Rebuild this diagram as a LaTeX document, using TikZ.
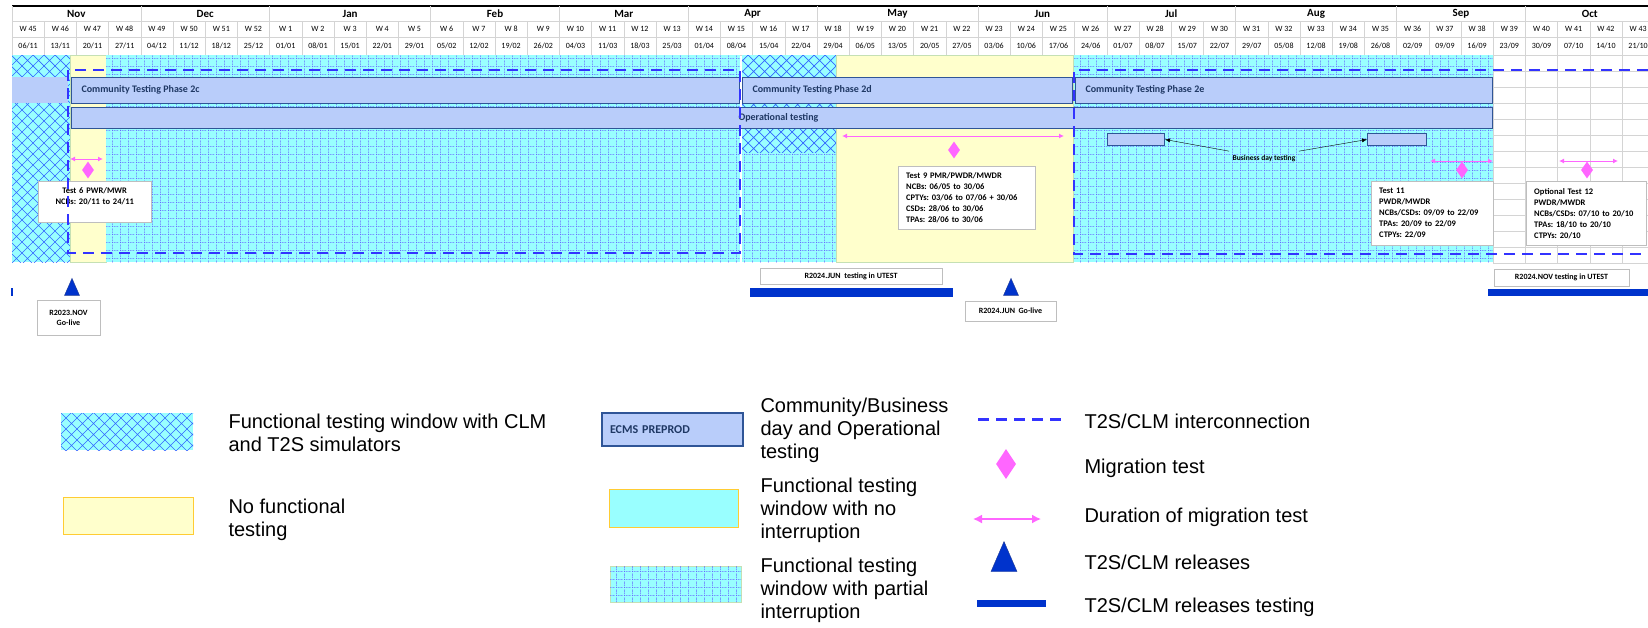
\documentclass[tikz,border=0pt]{standalone}
\usepackage{fontspec}
\setmainfont{Carlito}
\newfontfamily\legendfont{Liberation Sans}
\usepackage{xcolor}
\usepackage{tikz}
\usetikzlibrary{shapes.geometric, arrows.meta, positioning, patterns.meta}
\frenchspacing

\definecolor{cyanf}{RGB}{153,255,255}
\definecolor{latblue}{RGB}{51,102,255}
\definecolor{dotblue}{RGB}{102,102,255}
\definecolor{yellowf}{RGB}{255,255,204}
\definecolor{yellowline}{RGB}{255,204,51}
\definecolor{greenline}{RGB}{197,224,180}
\definecolor{barfill}{RGB}{185,205,250}
\definecolor{barline}{RGB}{47,85,151}
\definecolor{navytext}{RGB}{31,56,100}
\definecolor{linkblue}{RGB}{51,51,255}
\definecolor{pinkm}{RGB}{255,102,255}
\definecolor{relblue}{RGB}{0,51,204}
\definecolor{relline}{RGB}{31,58,147}
\definecolor{gridgray}{RGB}{212,212,212}
\definecolor{boxgray}{RGB}{190,190,190}

\tikzdeclarepattern{
  name=lattice,
  type=uncolored,
  bounding box={(-1pt,-1pt) and (12pt,12pt)},
  tile size={(11pt,11pt)},
  code={\draw[line width=0.7pt] (0pt,0pt) -- (11pt,11pt) (0pt,11pt) -- (11pt,0pt);}
}
\tikzdeclarepattern{
  name=dotgrid,
  type=uncolored,
  bounding box={(0pt,0pt) and (8pt,8pt)},
  tile size={(8pt,8pt)},
  code={\draw[line width=0.8pt, dash pattern=on 1pt off 1pt] (0.5pt,0pt) -- (0.5pt,8pt) (0pt,0.5pt) -- (8pt,0.5pt);}
}

\begin{document}
\begin{tikzpicture}[x=1pt, y=-1pt,
    hdr/.style={font=\fontsize{8}{9}\selectfont},
    month/.style={font=\bfseries\fontsize{11}{12}\selectfont},
    simzone/.style={fill=cyanf, postaction={pattern=lattice, pattern color=latblue}},
    partzone/.style={fill=cyanf, postaction={pattern=dotgrid, pattern color=dotblue}},
    nozone/.style={fill=yellowf},
    bar/.style={draw=barline, fill=barfill, line width=1pt},
    bartext/.style={font=\bfseries\fontsize{10}{12}\selectfont, text=navytext, anchor=west},
    infobox/.style={draw=boxgray, fill=white, font=\bfseries\fontsize{8.5}{11}\selectfont, inner xsep=8pt, inner ysep=4pt, anchor=north west},
    relbox/.style={draw=boxgray, fill=white, font=\bfseries\fontsize{8}{10}\selectfont, align=center, inner sep=1pt},
    migarrow/.style={{Latex[length=5pt,width=5pt]}-{Latex[length=5pt,width=5pt]}, draw=pinkm, line width=1pt},
    migtest/.style={diamond, fill=pinkm, inner sep=0pt, minimum width=12pt, minimum height=17pt},
    release/.style={isosceles triangle, isosceles triangle stretches, shape border rotate=90, fill=relblue, draw=relline, inner sep=0pt, minimum width=15pt, minimum height=17pt},
    reltest/.style={fill=relblue},
    link/.style={draw=linkblue, line width=2.5pt, dash pattern=on 11pt off 7pt},
    legtext/.style={font=\legendfont\fontsize{20}{23}\selectfont, anchor=west, align=left}
]
    \useasboundingbox[fill=white] (0,0) rectangle (1648,627);

    % header
    \draw[black, line width=1.2pt] (12,6) -- (1648,6);
    \foreach \y in {21,37,55}
        \draw[gridgray] (12,\y) -- (1648,\y);
    \foreach \m/\s/\n in {Nov/0/4, Dec/4/4, Jan/8/5, Feb/13/4, Mar/17/4, Apr/21/4, May/25/5, Jun/30/4, Jul/34/4, Aug/38/5, Sep/43/4, Oct/47/4} {
        \node[month] (m\m) at ({12+(\s+\n/2)*32.2},14) {\m};
        \draw[gridgray] ({12+\s*32.2},6) -- ({12+\s*32.2},55);
    }
    \foreach \i in {0,...,50} {
        \pgfmathtruncatemacro{\wn}{\i<8 ? 45+\i : \i-7}
        \node[hdr] (w\i) at ({12+(\i+0.5)*32.2},29) {W \wn};
        \draw[gridgray] ({12+\i*32.2},21) -- ({12+\i*32.2},55);
    }
    \foreach \d [count=\i from 0] in {06/11,13/11,20/11,27/11,04/12,11/12,18/12,25/12,01/01,08/01,15/01,22/01,29/01,05/02,12/02,19/02,26/02,04/03,11/03,18/03,25/03,01/04,08/04,15/04,22/04,29/04,06/05,13/05,20/05,27/05,03/06,10/06,17/06,24/06,01/07,08/07,15/07,22/07,29/07,05/08,12/08,19/08,26/08,02/09,09/09,16/09,23/09,30/09,07/10,14/10,21/10}
        \node[hdr] (d\i) at ({12+(\i+0.5)*32.2},46) {\d};

    % testing windows
    \fill[simzone] (12,55) rectangle (70,262);
    \draw[greenline, nozone] (70,55) rectangle (106,262);
    \fill[partzone] (106,55) rectangle (740,262);
    \fill[simzone] (742,55) rectangle (836,153);
    \fill[partzone] (742,153) rectangle (836,262);
    \draw[greenline, nozone] (836,55) rectangle (1073,262);
    \fill[partzone] (1074,55) rectangle (1493,262);
    \foreach \i in {46,...,51}
        \draw[gridgray] ({12+\i*32.2},55) -- ({12+\i*32.2},263);
    \foreach \y in {71,87,...,263}
        \draw[gridgray] (1493,\y) -- (1648,\y);

    % community and operational testing
    \fill[barfill] (12,77) rectangle (68,103);
    \draw[bar] (71,77) rectangle (739,103);
    \node[bartext] (p2c) at (78,90) {Community Testing Phase 2c};
    \draw[bar] (742,77) rectangle (1072,103);
    \node[bartext] (p2d) at (749,90) {Community Testing Phase 2d};
    \draw[bar] (1075,77) rectangle (1492,103);
    \node[bartext] (p2e) at (1082,90) {Community Testing Phase 2e};
    \draw[bar] (71,107) rectangle (1492,128);
    \node[bartext] (ops) at (735,117.5) {Operational testing};

    \node[bar, minimum width=57pt, minimum height=12pt, anchor=north west] (bd1) at (1107,133) {};
    \node[bar, minimum width=59pt, minimum height=12pt, anchor=north west] (bd2) at (1367,133) {};
    \node[font=\bfseries\fontsize{7.5}{9}\selectfont] (bdt) at (1264,158) {Business day testing};
    \draw[-{Latex[length=5pt,width=4pt]}] (bdt.north west) -- (bd1.east);
    \draw[-{Latex[length=5pt,width=4pt]}] (bdt.north east) -- (bd2.west);

    % migration tests
    \coordinate (t6l) at (70,159);
    \coordinate (t6r) at (103,159);
    \draw[migarrow] (t6l) -- (t6r);
    \node[migtest] (mt6) at (88,170) {};
    \node[infobox, text width=97pt, minimum height=41pt, align=center] (b6) at (38,181) {Test 6 PWR/MWR\\NCBs: 20/11 to 24/11\\\mbox{}};

    \coordinate (t9l) at (842,136);
    \coordinate (t9r) at (1064,136);
    \draw[migarrow] (t9l) -- (t9r);
    \node[migtest] (mt9) at (954,150) {};
    \node[infobox, text width=121pt, minimum height=63pt, align=left] (b9) at (898,166) {Test 9 PMR/PWDR/MWDR\\NCBs: 06/05 to 30/06\\CPTYs: 03/06 to 07/06 + 30/06\\CSDs: 28/06 to 30/06\\TPAs: 28/06 to 30/06};

    \coordinate (t11l) at (1430,161);
    \coordinate (t11r) at (1493,161);
    \draw[migarrow] (t11l) -- (t11r);
    \node[migtest] (mt11) at (1462,170) {};
    \node[infobox, text width=106pt, minimum height=64pt, align=left] (b11) at (1371,181) {Test 11\\PWDR/MWDR\\NCBs/CSDs: 09/09 to 22/09\\TPAs: 20/09 to 22/09\\CTPYs: 22/09};

    \coordinate (t12l) at (1559,161);
    \coordinate (t12r) at (1618,161);
    \draw[migarrow] (t12l) -- (t12r);
    \node[migtest] (mt12) at (1587,170) {};
    \node[infobox, text width=104pt, minimum height=64pt, align=left] (b12) at (1526,181) {Optional Test 12\\PWDR/MWDR\\NCBs/CSDs: 07/10 to 20/10\\TPAs: 18/10 to 20/10\\CTPYs: 20/10};

    % T2S/CLM interconnection
    \draw[link] (68,70) rectangle (740,253);
    \draw[link] (1648,70) -- (1074,70) -- (1074,254) -- (1648,254);

    % releases
    \draw[relblue, line width=1.5pt] (12,288) -- (12,296);
    \node[release] (r1) at (72,290.5) {};
    \node[relbox, minimum width=63pt, minimum height=35pt] (rb1) at (68.5,317.5) {R2023.NOV\\Go-live};
    \node[relbox, minimum width=182pt, minimum height=16pt] (rb2) at (851,276) {R2024.JUN\ \ testing in UTEST};
    \fill[reltest] (750,288) rectangle (953,297);
    \node[release] (r2) at (1011,290.5) {};
    \node[relbox, minimum width=91pt, minimum height=20pt] (rb3) at (1010.5,311) {R2024.JUN\ \ Go-live};
    \node[relbox, minimum width=135pt, minimum height=17pt] (rb4) at (1561.5,277.5) {R2024.NOV testing in UTEST};
    \fill[reltest] (1488,289) rectangle (1648,296);

    % legend
    \fill[simzone] (61,413) rectangle (193,450);
    \node[legtext] (l1) at (225,433) {Functional testing window with CLM\\and T2S simulators};
    \draw[yellowline, nozone] (63,497) rectangle (193,534);
    \node[legtext] (l2) at (225,520) {No functional\\testing};

    \node[bar, line width=1.5pt, minimum width=141pt, minimum height=33pt, inner xsep=8pt, text width=125pt, align=left, font=\bfseries\fontsize{12}{14}\selectfont, text=navytext] (ecms) at (672.5,429.5) {ECMS PREPROD};
    \node[legtext] (l3) at (757,430) {Community/Business\\day and Operational\\testing};
    \draw[yellowline, fill=cyanf] (609,489) rectangle (738,527);
    \node[legtext] (l4) at (757,510) {Functional testing\\window with no\\interruption};
    \draw[greenline, partzone] (610,566) rectangle (741,602);
    \node[legtext] (l5) at (757,590) {Functional testing\\window with partial\\interruption};

    \coordinate (lk1) at (978,419);
    \coordinate (lk2) at (1064,419);
    \draw[link, line width=3pt] (lk1) -- (lk2);
    \node[legtext] (l6) at (1081,421) {T2S/CLM interconnection};
    \node[migtest, minimum width=20pt, minimum height=30pt] (lm) at (1006,464) {};
    \node[legtext] (l7) at (1081,468) {Migration test};
    \coordinate (la1) at (973,519);
    \coordinate (la2) at (1041,519);
    \draw[migarrow, line width=1.5pt, {Latex[length=9pt,width=9pt]}-{Latex[length=9pt,width=9pt]}] (la1) -- (la2);
    \node[legtext] (l8) at (1081,517) {Duration of migration test};
    \node[release, minimum width=26pt, minimum height=30pt] (lr) at (1004,563) {};
    \node[legtext] (l9) at (1081,562) {T2S/CLM releases};
    \fill[reltest] (977,600) rectangle (1046,607);
    \node[legtext] (l10) at (1081,607) {T2S/CLM releases testing};
\end{tikzpicture}
\end{document}
